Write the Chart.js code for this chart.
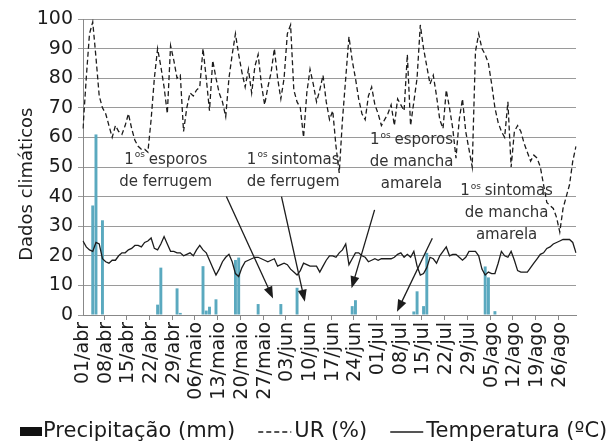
<!DOCTYPE html>
<html>
<head>
<meta charset="utf-8">
<script src="https://cdn.jsdelivr.net/npm/chart.js@4.4.1/dist/chart.umd.min.js"></script>
<style>
  html, body { margin: 0; padding: 0; background: #fff; }
</style>
</head>
<body>
<canvas id="chart" width="614" height="445"></canvas>
<script>
// months of the season (name, number of days)
const months = [['abr', 30], ['maio', 31], ['jun', 30], ['jul', 31], ['ago', 31]];

const tickLabels = ['01/abr', '08/abr', '15/abr', '22/abr', '29/abr', '06/maio', '13/maio', '20/maio', '27/maio',
  '03/jun', '10/jun', '17/jun', '24/jun', '01/jul', '08/jul', '15/jul', '22/jul', '29/jul',
  '05/ago', '12/ago', '19/ago', '26/ago'];

// relative humidity (%), one value per day from 01/abr
const urValues = [63, 80, 95, 99, 87, 74, 70, 68, 64, 60,
  64, 62, 61, 64, 68, 63, 59, 57, 56, 56,
  55, 66, 80, 90, 84, 77, 68, 91, 86, 80,
  81, 62, 70, 75, 74, 76, 77, 90, 80, 69,
  86, 80, 75, 72, 67, 80, 88, 95, 88, 82,
  77, 83, 75, 84, 88, 78, 71, 77, 82, 90,
  80, 73, 80, 95, 98, 76, 72, 70, 60, 75,
  83, 78, 72, 76, 81, 72, 66, 69, 57, 48,
  66, 80, 94, 86, 80, 73, 68, 66, 74, 77,
  71, 68, 64, 66, 68, 71, 64, 73, 71, 69,
  88, 64, 72, 80, 98, 90, 84, 78, 81, 74,
  66, 63, 76, 70, 63, 53, 66, 73, 62, 56,
  50, 89, 95, 90, 88, 85, 78, 70, 65, 62,
  60, 72, 50, 62, 64, 62, 58, 55, 52, 54,
  53, 50, 44, 38, 37, 36, 33, 28, 36, 40,
  44, 52, 57];

// mean temperature (ºC), one value per day
const tempValues = [25, 23, 22, 21.5, 24.5, 24, 19, 18, 17.5, 18.5,
  18.5, 20, 21, 21, 22, 22.5, 23.5, 23.5, 23, 24.5,
  25, 26, 22.5, 22, 24, 26.5, 24, 21.5, 21.5, 21,
  21, 20, 20.5, 21, 20, 22, 23.5, 22, 21, 18.5,
  16, 13.5, 15.5, 18, 19.5, 20.5, 18, 14, 13, 16,
  18, 18.5, 19, 19.5, 19.5, 19, 18.5, 18, 18.5, 19,
  16.5, 17, 17.5, 17, 15.5, 14.5, 13.5, 15, 17.5, 17,
  16.5, 16.5, 16.5, 14.5, 16.5, 18.5, 20, 20, 19.5, 21,
  22, 24, 17, 19, 21, 21, 20, 19.5, 18, 18.5,
  19, 18.5, 19, 19, 19, 19, 19.5, 20.5, 21, 19.5,
  20.5, 19.5, 21.5, 16.5, 13.5, 14, 16, 19.5, 19, 17.5,
  20, 21.5, 23, 20, 20.5, 20.5, 19.5, 18.5, 19.5, 21.5,
  21.5, 21.5, 20, 15.5, 13.5, 14.5, 14, 14, 17.5, 21.5,
  20, 19.5, 21.5, 18.5, 15, 14.5, 14.5, 14.5, 16, 17.5,
  19, 20.5, 21, 22.5, 23, 24, 24.5, 25, 25.5, 25.5,
  25.5, 24.5, 21];

// rainy days (index from 01/abr) and rainfall (mm)
const rainDays = [3, 4, 6, 23, 24, 29, 30, 37, 38, 39, 41, 47, 48, 54, 61, 66, 83, 84, 102, 103, 105, 106, 124, 125, 127];
const rainMm = [37, 61, 32, 3.5, 16, 9, 0.7, 16.5, 1.5, 2.8, 5.3, 18.6, 19.4, 3.7, 3.7, 9.2, 3, 5, 1.2, 8, 3, 21, 16.4, 12.7, 1.3];

const days = [];
months.forEach(([m, n]) => {
  for (let d = 1; d <= n; d++) days.push(String(d).padStart(2, '0') + '/' + m);
});
const rainSeries = days.map(() => 0);
rainDays.forEach((d, i) => { rainSeries[d] = rainMm[i]; });

const FONT = 'DejaVu Sans';
const INK = '#1c1c1c';

// notes with arrows, placed in data units (day index, value)
const notes = [
  { first: 'esporos', rest: ['de ferrugem'], x: 25.5, y: 52.4, from: [44.2, 40], to: [58.6, 5.6] },
  { first: 'sintomas', rest: ['de ferrugem'], x: 64.8, y: 52.4, from: [61.2, 40], to: [68.4, 4.5] },
  { first: 'esporos', rest: ['de mancha', 'amarela'], x: 101.3, y: 59, from: [89.9, 35.5], to: [82.8, 9] },
  { first: 'sintomas', rest: ['de mancha', 'amarela'], x: 130.6, y: 41.7, from: [107.7, 25.9], to: [96.8, 1.1] }
];

const notesPlugin = {
  id: 'notes',
  afterDatasetsDraw(chart) {
    const { ctx, scales: { x, y } } = chart;
    ctx.save();
    ctx.fillStyle = '#333';
    ctx.textBaseline = 'middle';
    notes.forEach(n => {
      const cx = x.getPixelForValue(n.x);
      let cy = y.getPixelForValue(n.y);
      // first line: 1 + superscript "os" + word
      ctx.font = '15px "' + FONT + '"';
      const w1 = ctx.measureText('1').width;
      const wr = ctx.measureText(' ' + n.first).width;
      ctx.font = '9px "' + FONT + '"';
      const ws = ctx.measureText('os').width;
      const sx = cx - (w1 + ws + wr) / 2;
      ctx.textAlign = 'left';
      ctx.font = '15px "' + FONT + '"';
      ctx.fillText('1', sx, cy);
      ctx.font = '9px "' + FONT + '"';
      ctx.fillText('os', sx + w1 + 1, cy - 5);
      ctx.font = '15px "' + FONT + '"';
      ctx.fillText(' ' + n.first, sx + w1 + ws, cy);
      ctx.textAlign = 'center';
      n.rest.forEach(t => {
        cy += 22;
        ctx.fillText(t, cx, cy);
      });

      // arrow
      const x0 = x.getPixelForValue(n.from[0]), y0 = y.getPixelForValue(n.from[1]);
      const x1 = x.getPixelForValue(n.to[0]), y1 = y.getPixelForValue(n.to[1]);
      const a = Math.atan2(y1 - y0, x1 - x0);
      const len = 12, hw = 4.5;
      ctx.strokeStyle = INK;
      ctx.lineWidth = 1.3;
      ctx.beginPath();
      ctx.moveTo(x0, y0);
      ctx.lineTo(x1 - Math.cos(a) * len * 0.8, y1 - Math.sin(a) * len * 0.8);
      ctx.stroke();
      ctx.fillStyle = INK;
      ctx.beginPath();
      ctx.moveTo(x1, y1);
      ctx.lineTo(x1 - Math.cos(a) * len - Math.sin(a) * hw, y1 - Math.sin(a) * len + Math.cos(a) * hw);
      ctx.lineTo(x1 - Math.cos(a) * len + Math.sin(a) * hw, y1 - Math.sin(a) * len - Math.cos(a) * hw);
      ctx.closePath();
      ctx.fill();
      ctx.fillStyle = '#333';
    });
    ctx.restore();
  }
};

// legend drawn at the bottom, like the original figure
const legendPlugin = {
  id: 'bottomLegend',
  afterDraw(chart) {
    const ctx = chart.ctx;
    const cy = 432;
    ctx.save();
    ctx.font = '21px "' + FONT + '"';
    ctx.textBaseline = 'middle';
    ctx.textAlign = 'left';
    ctx.fillStyle = INK;
    let px = 20;
    chart.data.datasets.forEach(ds => {
      if (ds.type === 'bar') {
        ctx.fillStyle = '#111';
        ctx.fillRect(px, cy - 5, 22, 9);
        px += 23;
      } else {
        ctx.strokeStyle = INK;
        ctx.lineWidth = 1.4;
        ctx.setLineDash(ds.borderDash || []);
        ctx.beginPath();
        ctx.moveTo(px, cy);
        ctx.lineTo(px + 33, cy);
        ctx.stroke();
        ctx.setLineDash([]);
        px += 36;
      }
      ctx.fillStyle = INK;
      ctx.fillText(ds.label, px, cy);
      px += ctx.measureText(ds.label).width + 23;
    });
    ctx.restore();
  }
};

new Chart(document.getElementById('chart'), {
  data: {
    labels: days,
    datasets: [
      {
        type: 'bar',
        label: 'Precipitação (mm)',
        data: rainSeries,
        backgroundColor: '#5aa9bf',
        barPercentage: 0.9,
        categoryPercentage: 1,
        order: 3
      },
      {
        type: 'line',
        label: 'UR (%)',
        data: urValues,
        borderColor: INK,
        borderWidth: 1.3,
        borderDash: [5, 3],
        pointRadius: 0,
        tension: 0,
        order: 2
      },
      {
        type: 'line',
        label: 'Temperatura (ºC)',
        data: tempValues,
        borderColor: INK,
        borderWidth: 1.3,
        pointRadius: 0,
        tension: 0,
        order: 1
      }
    ]
  },
  options: {
    responsive: false,
    animation: false,
    devicePixelRatio: 1,
    layout: { padding: { left: 0, right: 38, top: 19, bottom: 32 } },
    plugins: {
      legend: { display: false },
      tooltip: { enabled: false }
    },
    scales: {
      x: {
        type: 'category',
        offset: false,
        grid: {
          drawOnChartArea: false,
          tickLength: 5,
          tickColor: c => (tickLabels.includes(days[c.index]) ? '#888' : 'rgba(0,0,0,0)')
        },
        border: { color: '#888' },
        ticks: {
          autoSkip: false,
          minRotation: 90,
          maxRotation: 90,
          padding: 2,
          color: INK,
          font: { family: FONT, size: 19 },
          callback: function (v, i) {
            const lab = days[i];
            return tickLabels.includes(lab) ? lab : '';
          }
        },
        afterFit: s => { s.height = 98; }
      },
      y: {
        min: 0,
        max: 100,
        ticks: {
          stepSize: 10,
          padding: 5,
          color: INK,
          font: { family: FONT, size: 19 }
        },
        grid: { color: '#9a9a9a', tickLength: 5, tickColor: '#9a9a9a' },
        border: { color: '#888' },
        title: {
          display: true,
          // trailing spaces nudge the rotated title a little lower, as in the original
          text: 'Dados climáticos      ',
          color: INK,
          font: { family: FONT, size: 18 },
          padding: { top: 17, bottom: 0 }
        },
        afterFit: s => { s.width = 83; }
      }
    }
  },
  plugins: [notesPlugin, legendPlugin]
});
</script>
</body>
</html>
